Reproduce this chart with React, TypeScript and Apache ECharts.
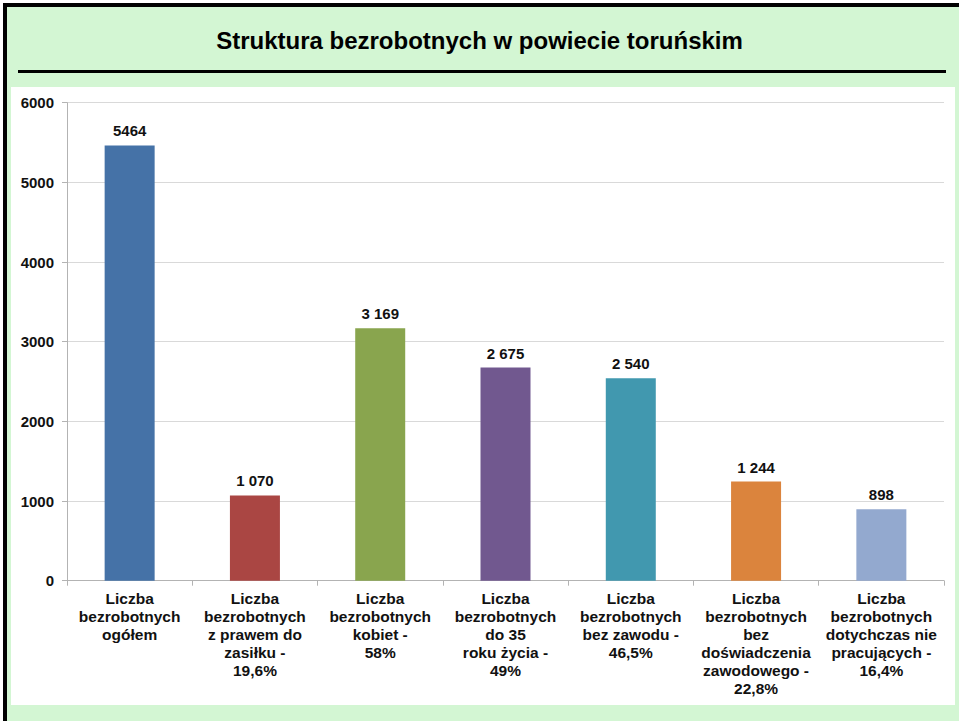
import React, { useEffect, useRef } from "react";
import * as echarts from "echarts";

const TITLE = "Struktura bezrobotnych w powiecie toruńskim";
const categories = [
  "Liczba\nbezrobotnych\nogółem",
  "Liczba\nbezrobotnych\nz prawem do\nzasiłku -\n19,6%",
  "Liczba\nbezrobotnych\nkobiet -\n58%",
  "Liczba\nbezrobotnych\ndo 35\nroku życia -\n49%",
  "Liczba\nbezrobotnych\nbez zawodu -\n46,5%",
  "Liczba\nbezrobotnych\nbez\ndoświadczenia\nzawodowego -\n22,8%",
  "Liczba\nbezrobotnych\ndotychczas nie\npracujących -\n16,4%",
];
const values = [5464, 1070, 3169, 2675, 2540, 1244, 898];
const valueLabels = ["5464", "1 070", "3 169", "2 675", "2 540", "1 244", "898"];
const colors = ["#4572a7", "#aa4643", "#89a54e", "#71588f", "#4198af", "#db843d", "#93a9cf"];
const yMin = 0;
const yMax = 6000;
const yStep = 1000;

const FONT = "Arial, 'Liberation Sans', sans-serif";

export default function App() {
  const ref = useRef<HTMLDivElement>(null);
  useEffect(() => {
    if (!ref.current) return;
    const chart = echarts.init(ref.current, undefined, { renderer: "svg" });
    chart.setOption({
      animation: false,
      backgroundColor: "transparent",
      title: {
        text: TITLE,
        left: "center",
        top: 23,
        textStyle: { fontFamily: FONT, fontSize: 24, fontWeight: "bold", color: "#000" },
      },
      graphic: [
        {
          type: "line",
          shape: { x1: 18, y1: 71.5, x2: 946, y2: 71.5 },
          style: { stroke: "#000", lineWidth: 3 },
        },
      ],
      grid: { left: 67, right: 15, top: 102.7, bottom: 140.3, containLabel: false },
      xAxis: {
        type: "category",
        data: categories,
        axisLine: { show: true, lineStyle: { color: "#b3b3b3", width: 1 } },
        axisTick: { show: true, alignWithLabel: false, length: 5, lineStyle: { color: "#b3b3b3" } },
        axisLabel: {
          interval: 0,
          margin: 9,
          fontFamily: FONT,
          fontSize: 15.5,
          fontWeight: "bold",
          color: "#111",
          lineHeight: 18,
        },
      },
      yAxis: {
        type: "value",
        min: yMin,
        max: yMax,
        interval: yStep,
        axisLine: { show: true, lineStyle: { color: "#b3b3b3", width: 1 } },
        axisTick: { show: true, length: 5, lineStyle: { color: "#b3b3b3" } },
        splitLine: { show: true, lineStyle: { color: "#d9d9d9", width: 1 } },
        axisLabel: {
          margin: 13,
          fontFamily: FONT,
          fontSize: 15,
          fontWeight: "bold",
          color: "#111",
          formatter: (v: number) => String(v),
        },
      },
      series: [
        {
          type: "bar",
          barWidth: 50,
          data: values.map((v, i) => ({ value: v, itemStyle: { color: colors[i] } })),
          label: {
            show: true,
            position: "top",
            distance: 7,
            fontFamily: FONT,
            fontSize: 15,
            fontWeight: "bold",
            color: "#111",
            formatter: (p: any) => valueLabels[p.dataIndex],
          },
        },
      ],
    });
    return () => chart.dispose();
  }, []);

  const abs = (s: React.CSSProperties): React.CSSProperties => ({ position: "absolute", ...s });
  return (
    <div style={abs({ left: 0, top: 0, width: 959, height: 721, background: "#fff", overflow: "hidden" })}>
      <div style={abs({ left: 7, top: 7, width: 952, height: 714, background: "#d3f6d3" })} />
      <div style={abs({ left: 3, top: 3, width: 956, height: 4, background: "#000" })} />
      <div style={abs({ left: 3, top: 3, width: 4, height: 718, background: "#000" })} />
      <div style={abs({ left: 11, top: 87, width: 944, height: 618, background: "#fff" })} />
      <div ref={ref} style={abs({ left: 0, top: 0, width: 959, height: 721 })} />
    </div>
  );
}
